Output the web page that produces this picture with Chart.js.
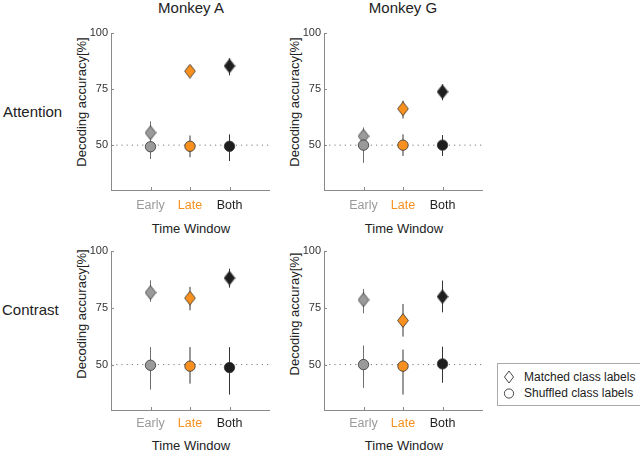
<!DOCTYPE html>
<html><head><meta charset="utf-8">
<script src="https://cdn.jsdelivr.net/npm/chart.js@4/dist/chart.umd.min.js"></script>
<style>
html,body{margin:0;padding:0;background:#fff;}
body{width:640px;height:451px;position:relative;overflow:hidden;font-family:"Liberation Sans",Arial,sans-serif;color:#222;}
.t{position:absolute;white-space:nowrap;line-height:1;}
.c{transform:translateX(-50%);}
canvas{position:absolute;}
.yt{position:absolute;width:200px;text-align:center;font-size:13px;line-height:13px;transform:translate(-50%,-50%) rotate(-90deg);white-space:nowrap;color:#222;}
</style></head><body>
<div class="t c" style="left:191px;top:0.3px;font-size:15px;">Monkey A</div>
<div class="t c" style="left:403px;top:0.3px;font-size:15px;">Monkey G</div>
<div class="t" style="left:3px;top:104.3px;font-size:15px;">Attention</div>
<div class="t" style="left:2px;top:302.3px;font-size:15px;">Contrast</div>
<div class="t c" style="left:191px;top:221.7px;font-size:13px;">Time Window</div>
<div class="t c" style="left:404px;top:221.7px;font-size:13px;">Time Window</div>
<div class="t c" style="left:191px;top:438.5px;font-size:13px;">Time Window</div>
<div class="t c" style="left:404px;top:438.5px;font-size:13px;">Time Window</div>
<div class="yt" style="left:80.5px;top:101.5px;">Decoding accuracy[%]</div>
<div class="yt" style="left:293.5px;top:101.5px;">Decoding accuracy[%]</div>
<div class="yt" style="left:80.5px;top:314px;">Decoding accuracy[%]</div>
<div class="yt" style="left:293.5px;top:314px;">Decoding accuray[%]</div>
<div style="position:absolute;left:497px;top:363px;width:146px;height:43px;border:1px solid #aaa;box-sizing:border-box;background:#fff;"></div>
<svg style="position:absolute;left:0;top:0;" width="640" height="451">
  <polygon points="509,371 513.5,377 509,383 504.5,377" fill="#fff" stroke="#333" stroke-width="0.9"/>
  <circle cx="509" cy="393.5" r="4.6" fill="#fff" stroke="#333" stroke-width="0.9"/>
</svg>
<div class="t" style="left:524px;top:370.5px;font-size:12px;">Matched class labels</div>
<div class="t" style="left:524px;top:387.1px;font-size:12px;">Shuffled class labels</div>
<script>
const categories = ['Early', 'Late', 'Both'];
const categoryColors = ['#9a9a9a', '#f7901e', '#1e1e1e'];
const yTicks = [50, 75, 100];
const chanceLevel = 50;

// Monkey A - Attention
const attA_matched   = [55.5, 83.0, 85.3];
const attA_matchedLo = [51.0, 81.0, 81.1];
const attA_matchedHi = [60.6, 85.0, 88.7];
const attA_shuffled   = [49.3, 49.5, 49.5];
const attA_shuffledLo = [43.8, 44.6, 42.9];
const attA_shuffledHi = [54.8, 54.3, 54.8];

// Monkey G - Attention
const attG_matched   = [54.0, 66.2, 73.8];
const attG_matchedLo = [51.0, 61.9, 70.0];
const attG_matchedHi = [57.4, 69.8, 77.1];
const attG_shuffled   = [50.0, 50.0, 50.0];
const attG_shuffledLo = [42.1, 45.2, 45.2];
const attG_shuffledHi = [57.9, 54.8, 54.5];

// Monkey A - Contrast
const conA_matched   = [81.7, 79.3, 88.1];
const conA_matchedLo = [77.6, 73.9, 83.9];
const conA_matchedHi = [87.1, 84.2, 92.2];
const conA_shuffled   = [49.7, 49.3, 48.7];
const conA_shuffledLo = [39.0, 41.6, 36.8];
const conA_shuffledHi = [57.7, 57.7, 57.7];

// Monkey G - Contrast
const conG_matched   = [78.5, 69.4, 79.9];
const conG_matchedLo = [72.6, 62.3, 73.0];
const conG_matchedHi = [83.3, 76.7, 87.0];
const conG_shuffled   = [50.0, 49.3, 50.3];
const conG_shuffledLo = [39.7, 36.8, 42.0];
const conG_shuffledHi = [58.4, 56.6, 57.9];

const FONT = '"Liberation Sans", Arial, sans-serif';

function diamondImage(fill) {
  const c = document.createElement('canvas');
  c.width = 12; c.height = 15;
  const g = c.getContext('2d');
  g.beginPath();
  g.moveTo(6, 0.6); g.lineTo(11.4, 7.5); g.lineTo(6, 14.4); g.lineTo(0.6, 7.5); g.closePath();
  g.fillStyle = fill; g.fill();
  g.lineWidth = 0.8; g.strokeStyle = '#333'; g.stroke();
  return c;
}
const diamonds = categoryColors.map(diamondImage);

const tickMarks = {
  id: 'tickMarks',
  beforeDatasetsDraw(chart) {
    const {ctx, chartArea: a, scales: {x, y}} = chart;
    ctx.save();
    ctx.strokeStyle = '#8a8a8a'; ctx.lineWidth = 1;
    ctx.beginPath();
    y.ticks.forEach(t => { const p = Math.round(y.getPixelForValue(t.value)) + 0.5; ctx.moveTo(a.left, p); ctx.lineTo(a.left + 3, p); });
    x.ticks.forEach(t => { const p = Math.round(x.getPixelForValue(t.value)) + 0.5; ctx.moveTo(p, a.bottom); ctx.lineTo(p, a.bottom - 3); });
    ctx.stroke();
    ctx.restore();
  }
};

const panels = [
  {axisLeft: 111, plotTop: 33, plotH: 157, tickPad: 8.5, m: attA_matched, mLo: attA_matchedLo, mHi: attA_matchedHi, s: attA_shuffled, sLo: attA_shuffledLo, sHi: attA_shuffledHi},
  {axisLeft: 324, plotTop: 33, plotH: 157, tickPad: 8.5, m: attG_matched, mLo: attG_matchedLo, mHi: attG_matchedHi, s: attG_shuffled, sLo: attG_shuffledLo, sHi: attG_shuffledHi},
  {axisLeft: 111, plotTop: 251, plotH: 159, tickPad: 6.5, m: conA_matched, mLo: conA_matchedLo, mHi: conA_matchedHi, s: conA_shuffled, sLo: conA_shuffledLo, sHi: conA_shuffledHi},
  {axisLeft: 324, plotTop: 251, plotH: 159, tickPad: 6.5, m: conG_matched, mLo: conG_matchedLo, mHi: conG_matchedHi, s: conG_shuffled, sLo: conG_shuffledLo, sHi: conG_shuffledHi}
];

function makePanel(p) {
  const cv = document.createElement('canvas');
  const W = 50 + 158 + 12, H = 12 + p.plotH + 30;
  cv.width = W; cv.height = H;
  cv.style.width = W + 'px'; cv.style.height = H + 'px';
  cv.style.left = (p.axisLeft - 50) + 'px';
  cv.style.top = (p.plotTop - 12) + 'px';
  document.body.appendChild(cv);
  const xs = categories.map((_, i) => i + 1);

  const errSets = xs.map((xv, i) => ({
    type: 'line', showLine: true, spanGaps: false, fill: false,
    data: [{x: xv, y: p.mLo[i]}, {x: xv, y: p.mHi[i]}, {x: xv, y: null}, {x: xv, y: p.sLo[i]}, {x: xv, y: p.sHi[i]}],
    borderColor: i === 0 ? '#6e6e6e' : '#333', borderWidth: 1, pointRadius: 0, order: 5
  }));

  const chance = {
    type: 'line', showLine: true, fill: false,
    data: [{x: 0, y: chanceLevel}, {x: 4, y: chanceLevel}],
    borderColor: '#7a7a7a', borderWidth: 1, borderDash: [1.2, 4], pointRadius: 0, order: 9
  };

  const matched = {
    type: 'scatter',
    data: xs.map((xv, i) => ({x: xv, y: p.m[i]})),
    pointStyle: diamonds, pointRadius: 7, order: 2
  };

  const shuffled = {
    type: 'scatter',
    data: xs.map((xv, i) => ({x: xv, y: p.s[i]})),
    pointStyle: 'circle', pointRadius: 5.2,
    pointBackgroundColor: categoryColors, pointBorderColor: '#333', pointBorderWidth: 0.8, order: 1
  };

  new Chart(cv, {
    type: 'scatter',
    data: {datasets: [shuffled, matched, ...errSets, chance]},
    options: {
      responsive: false, animation: false, events: [], devicePixelRatio: 1,
      layout: {padding: {top: 12, right: 12, left: 0, bottom: 0}},
      plugins: {legend: {display: false}, tooltip: {enabled: false}},
      scales: {
        x: {
          type: 'linear', min: 0, max: 4,
          grid: {display: false, drawTicks: false},
          border: {display: true, color: '#8a8a8a', width: 1},
          afterBuildTicks: s => { s.ticks = xs.map(v => ({value: v})); },
          afterFit: s => { s.height = 30; },
          ticks: {
            autoSkip: false, maxRotation: 0, padding: p.tickPad,
            font: {family: FONT, size: 12.5},
            color: c => categoryColors[c.index],
            callback: v => categories[v - 1]
          }
        },
        y: {
          type: 'linear', min: 30, max: 100,
          grid: {display: false, drawTicks: false},
          border: {display: true, color: '#8a8a8a', width: 1},
          afterBuildTicks: s => { s.ticks = yTicks.map(v => ({value: v})); },
          afterFit: s => { s.width = 50; },
          ticks: {padding: 3, font: {family: FONT, size: 11}, color: '#333'}
        }
      }
    },
    plugins: [tickMarks]
  });
}
panels.forEach(makePanel);
</script>
</body></html>
